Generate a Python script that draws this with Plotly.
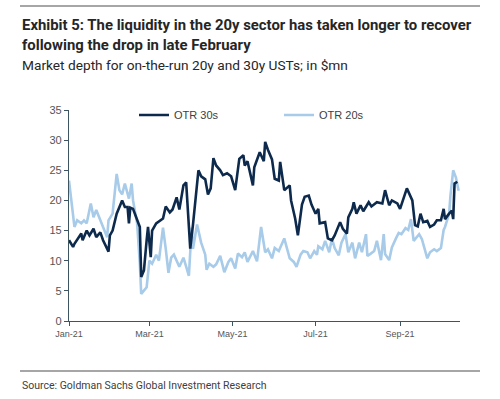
import plotly.graph_objects as go

# ---------------- data ----------------
dark_dates = [
    "2021-01-01","2021-01-04","2021-01-05","2021-01-07","2021-01-10","2021-01-11","2021-01-14","2021-01-16",
    "2021-01-19","2021-01-21","2021-01-24","2021-01-26","2021-01-29","2021-01-30","2021-01-31",
    "2021-02-02","2021-02-05","2021-02-07","2021-02-09","2021-02-11","2021-02-13","2021-02-14","2021-02-15",
    "2021-02-17","2021-02-20","2021-02-22","2021-02-23","2021-02-25","2021-02-27","2021-02-28",
    "2021-03-02","2021-03-03","2021-03-06","2021-03-08","2021-03-11","2021-03-13","2021-03-16","2021-03-18",
    "2021-03-21","2021-03-23","2021-03-26","2021-03-28","2021-03-31",
    "2021-04-02","2021-04-05","2021-04-06","2021-04-08","2021-04-11","2021-04-13","2021-04-15","2021-04-17",
    "2021-04-19","2021-04-22","2021-04-24","2021-04-27","2021-04-30",
    "2021-05-03","2021-05-06","2021-05-09","2021-05-10","2021-05-12","2021-05-16","2021-05-17","2021-05-21",
    "2021-05-24","2021-05-25","2021-05-27","2021-05-30",
    "2021-06-01","2021-06-04","2021-06-05","2021-06-07","2021-06-08","2021-06-12","2021-06-13","2021-06-16",
    "2021-06-18","2021-06-21","2021-06-23","2021-06-26","2021-06-28",
    "2021-07-01","2021-07-03","2021-07-04","2021-07-08","2021-07-10","2021-07-13","2021-07-15","2021-07-19",
    "2021-07-21","2021-07-24","2021-07-25","2021-07-28","2021-07-29","2021-07-31",
    "2021-08-03","2021-08-05","2021-08-09","2021-08-11","2021-08-15","2021-08-19","2021-08-21","2021-08-24",
    "2021-08-26","2021-08-30",
    "2021-09-01","2021-09-06","2021-09-10","2021-09-12","2021-09-14","2021-09-16","2021-09-18","2021-09-21",
    "2021-09-23","2021-09-26","2021-09-28",
    "2021-10-01","2021-10-03","2021-10-04","2021-10-07","2021-10-09","2021-10-10","2021-10-11","2021-10-13",
]
otr30 = [
    13.4, 12.3, 12.8, 13.4, 14.5, 13.4, 15.0, 14.2,
    15.3, 13.9, 14.7, 13.4, 12.0, 11.5, 14.2,
    15.0, 17.8, 18.9, 20.0, 18.9, 18.9, 16.2, 18.8,
    18.6, 16.7, 15.6, 7.3, 8.4, 13.4, 15.6,
    10.6, 15.0, 16.2, 16.5, 17.0, 19.0, 18.0, 18.5,
    20.5, 18.5, 22.5, 23.0, 12.0,
    16.0, 23.0, 25.0, 24.0, 23.5, 21.0, 22.0, 27.0,
    25.8, 25.0, 24.2, 24.5, 24.0,
    21.7, 26.9, 27.5, 25.8, 26.5, 22.5, 25.5, 28.0,
    26.5, 29.7, 28.4, 26.8,
    23.6, 23.3, 26.4, 23.0, 21.7, 22.5, 20.0, 17.0,
    14.2, 19.3, 20.6, 20.8, 19.3,
    17.8, 18.6, 16.2, 16.4, 13.7, 13.4, 14.2, 16.4,
    15.3, 14.5, 17.2, 18.6, 19.7, 17.8,
    19.2, 18.2, 19.7, 19.0, 19.7, 19.5, 21.7, 19.2,
    20.0, 19.5,
    18.6, 22.0, 20.0, 15.9, 15.7, 17.8, 16.4, 16.6,
    15.6, 16.0, 16.7,
    16.7, 18.6, 16.9, 17.8, 18.3, 16.9, 22.8, 23.1,
]

light_dates = [
    "2021-01-01","2021-01-04","2021-01-05","2021-01-07","2021-01-10","2021-01-12","2021-01-14","2021-01-17",
    "2021-01-19","2021-01-21","2021-01-24","2021-01-26","2021-01-29","2021-01-30",
    "2021-02-02","2021-02-05","2021-02-07","2021-02-09","2021-02-11","2021-02-14","2021-02-16","2021-02-17",
    "2021-02-20","2021-02-22","2021-02-23","2021-02-27",
    "2021-03-01","2021-03-03","2021-03-06","2021-03-08","2021-03-11","2021-03-13","2021-03-15","2021-03-17",
    "2021-03-19","2021-03-23","2021-03-26","2021-03-28","2021-03-30",
    "2021-04-01","2021-04-02","2021-04-05","2021-04-08","2021-04-11","2021-04-12","2021-04-14","2021-04-17",
    "2021-04-19","2021-04-22","2021-04-25","2021-04-28","2021-04-30",
    "2021-05-03","2021-05-05","2021-05-08","2021-05-10","2021-05-12","2021-05-16","2021-05-19","2021-05-22",
    "2021-05-25","2021-05-27","2021-05-30",
    "2021-06-01","2021-06-04","2021-06-08","2021-06-10","2021-06-12","2021-06-15","2021-06-17","2021-06-20",
    "2021-06-22","2021-06-25","2021-06-27","2021-06-30",
    "2021-07-02","2021-07-03","2021-07-06","2021-07-08","2021-07-11","2021-07-13","2021-07-15","2021-07-18",
    "2021-07-20","2021-07-23","2021-07-25","2021-07-28","2021-07-30",
    "2021-08-02","2021-08-04","2021-08-07","2021-08-08","2021-08-10","2021-08-13","2021-08-15","2021-08-18",
    "2021-08-20","2021-08-21","2021-08-24","2021-08-26","2021-08-29","2021-08-31",
    "2021-09-02","2021-09-05","2021-09-07","2021-09-09","2021-09-11","2021-09-12","2021-09-15","2021-09-17",
    "2021-09-20","2021-09-21","2021-09-23","2021-09-26","2021-09-28",
    "2021-10-01","2021-10-03","2021-10-04","2021-10-07","2021-10-08","2021-10-10","2021-10-12","2021-10-14",
]
otr20 = [
    23.3, 17.2, 15.6, 16.7, 16.2, 16.7, 16.2, 19.5,
    17.2, 18.4, 16.7, 15.6, 13.9, 16.7,
    17.8, 24.4, 21.7, 21.0, 22.8, 20.3, 22.8, 20.0,
    16.2, 9.5, 4.5, 5.6,
    10.0, 9.5, 11.0, 10.0, 15.5, 12.0, 8.0, 10.5,
    11.0, 9.0, 10.5, 9.0, 7.5,
    15.5, 12.0, 16.0, 13.0, 11.0, 8.5, 9.5, 9.0,
    9.4, 10.8, 8.1, 9.8, 10.4,
    8.7, 11.2, 10.6, 11.4, 9.8, 11.6, 9.9, 15.6,
    11.4, 11.9, 10.4,
    12.1, 11.6, 13.7, 11.9, 10.4, 9.8, 9.0, 11.0,
    11.6, 11.4, 10.4, 11.6,
    11.0, 12.4, 11.9, 13.3, 11.4, 13.7, 12.1, 10.9,
    13.0, 14.4, 11.4, 13.0, 10.4,
    13.0, 11.4, 14.4, 10.8, 11.1, 11.6, 13.3, 10.1,
    14.4, 11.1, 10.1, 12.2, 13.7, 14.6,
    14.4, 15.4, 15.1, 16.9, 13.3, 13.6, 14.4, 13.6,
    11.4, 10.4, 11.4, 11.9, 11.6,
    12.1, 15.1, 15.6, 17.8, 20.8, 25.0, 23.8, 21.6,
]

assert len(dark_dates) == len(otr30)
assert len(light_dates) == len(otr20)

x_tick_vals = ["2021-01-01", "2021-03-01", "2021-05-01", "2021-07-01", "2021-09-01"]
x_tick_text = ["Jan-21", "Mar-21", "May-21", "Jul-21", "Sep-21"]
y_ticks = [0, 5, 10, 15, 20, 25, 30, 35]

title1 = "Exhibit 5: The liquidity in the 20y sector has taken longer to recover"
title2 = "following the drop in late February"
subtitle = "Market depth for on-the-run 20y and 30y USTs; in $mn"
source = "Source: Goldman Sachs Global Investment Research"

# ---------------- layout geometry ----------------
W, H = 500, 399
ML, MR, MT, MB = 69, 40, 110, 78
PW, PH = W - ML - MR, H - MT - MB


def px(xp):
    return (xp - ML) / PW


def py(yp):
    return (H - MB - yp) / PH


HEAD = "Roboto, Liberation Sans, Arial, sans-serif"
DARK = "#0d2a4c"
LIGHT = "#a7cbe8"

fig = go.Figure()
fig.add_trace(go.Scatter(x=light_dates, y=otr20, mode="lines", name="OTR 20s",
                         line=dict(color=LIGHT, width=2.6)))
fig.add_trace(go.Scatter(x=dark_dates, y=otr30, mode="lines", name="OTR 30s",
                         line=dict(color=DARK, width=2.6)))

fig.update_layout(
    width=W, height=H,
    margin=dict(l=ML, r=MR, t=MT, b=MB),
    paper_bgcolor="white", plot_bgcolor="white",
    font=dict(family="Liberation Sans, Arial, sans-serif", color="#404040"),
    showlegend=True,
    legend=dict(orientation="h", traceorder="reversed",
                x=px(134), xanchor="left", y=py(115), yanchor="middle",
                font=dict(size=11, color="#404040"),
                entrywidth=100, entrywidthmode="pixels",
                bgcolor="rgba(0,0,0,0)", itemclick=False),
    xaxis=dict(range=["2021-01-01", "2021-10-15"], tickvals=x_tick_vals, ticktext=x_tick_text,
               showgrid=False, zeroline=False, showline=True, linecolor="#3d5560", linewidth=1.2,
               ticks="outside", ticklen=4, tickcolor="#3d5560",
               tickfont=dict(size=9, color="#555555")),
    yaxis=dict(range=[0, 35], tickvals=y_ticks, showgrid=False, zeroline=False,
               showline=True, linecolor="#3d5560", linewidth=1.2,
               ticks="outside", ticklen=4, tickcolor="#3d5560",
               tickfont=dict(size=11, color="#555555")),
)

annotations = [
    dict(text=f"<b>{title1}</b>", x=px(20), y=py(25), xanchor="left", yanchor="middle",
         font=dict(family=HEAD, size=14.9, color="#262626")),
    dict(text=f"<b>{title2}</b>", x=px(20), y=py(45), xanchor="left", yanchor="middle",
         font=dict(family=HEAD, size=14.9, color="#262626")),
    dict(text=subtitle, x=px(20), y=py(65), xanchor="left", yanchor="middle",
         font=dict(family=HEAD, size=13.7, color="#262626")),
    dict(text=source, x=px(20), y=py(385), xanchor="left", yanchor="middle",
         font=dict(family=HEAD, size=10.5, color="#404040")),
]
for a in annotations:
    a.update(xref="paper", yref="paper", showarrow=False)
fig.update_layout(annotations=annotations)

fig.update_layout(shapes=[
    dict(type="line", xref="paper", yref="paper", x0=px(20), x1=px(480), y0=py(6), y1=py(6),
         line=dict(color="#a6a6a6", width=2)),
    dict(type="line", xref="paper", yref="paper", x0=px(20), x1=px(480), y0=py(371), y1=py(371),
         line=dict(color="#a6a6a6", width=2)),
])

fig.write_html("out.html", config={"displayModeBar": False},
               post_script="document.body.style.margin='0';document.body.style.overflow='hidden';")
